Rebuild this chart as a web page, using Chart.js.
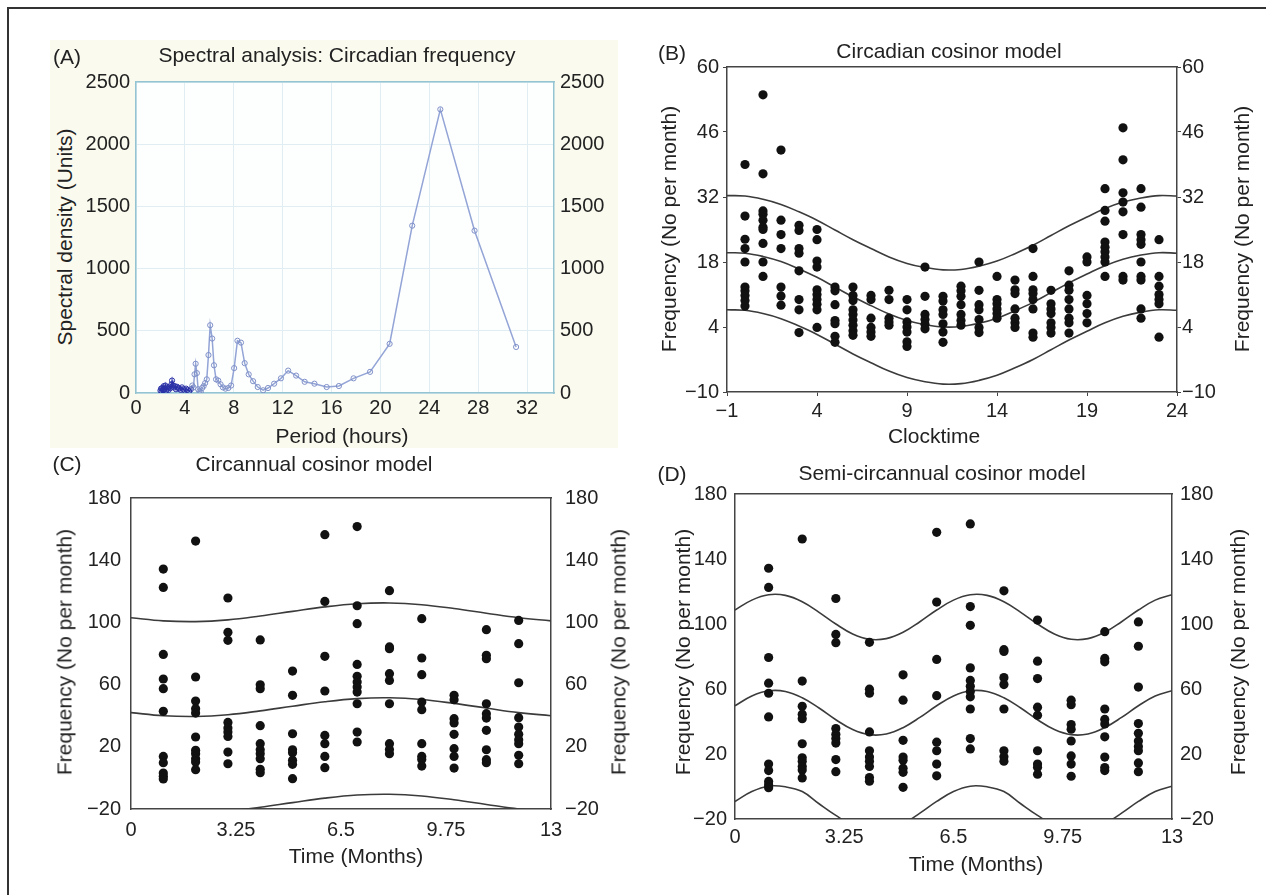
<!DOCTYPE html>
<html>
<head>
<meta charset="utf-8">
<script src="https://cdn.jsdelivr.net/npm/chart.js@4.4.0/dist/chart.umd.min.js"></script>
<style>
  body { margin: 0; background: #fff; width: 1266px; height: 895px; position: relative; overflow: hidden;
         font-family: "Liberation Sans", Arial, Helvetica, sans-serif; color: #222; }
  .frame { position: absolute; left: 7px; top: 7px; width: 1300px; height: 950px;
           border-left: 2px solid #333; border-top: 2px solid #333; }
  .cream { position: absolute; left: 50px; top: 40px; width: 568px; height: 408px; background: #fafaef; }
  .plotbg { position: absolute; left: 136px; top: 82px; width: 418px; height: 311px; background: #fdfefe; }
  canvas { position: absolute; }
  .t { position: absolute; font-size: 21px; line-height: 21px; white-space: nowrap; transform: translate(-50%, -50%); }
  .v { position: absolute; font-size: 21px; line-height: 21px; white-space: nowrap;
       transform: translate(-50%, -50%) rotate(-90deg); }
</style>
</head>
<body>
<div class="frame"></div>
<div class="cream"></div>
<div class="plotbg"></div>

<canvas id="chartA"></canvas>
<canvas id="chartB"></canvas>
<canvas id="chartC"></canvas>
<canvas id="chartD"></canvas>

<div class="t" style="left:67px;top:56px">(A)</div>
<div class="t" style="left:337px;top:54px">Spectral analysis: Circadian frequency</div>
<div class="t" style="left:342px;top:435px">Period (hours)</div>
<div class="v" style="left:64px;top:237px">Spectral density (Units)</div>

<div class="t" style="left:672px;top:52px">(B)</div>
<div class="t" style="left:949px;top:50px">Circadian cosinor model</div>
<div class="t" style="left:934px;top:435px">Clocktime</div>
<div class="v" style="left:668px;top:229px">Frequency (No per month)</div>
<div class="v" style="left:1241px;top:229px">Frequency (No per month)</div>

<div class="t" style="left:67px;top:463px">(C)</div>
<div class="t" style="left:314px;top:463px">Circannual cosinor model</div>
<div class="t" style="left:356px;top:855px">Time (Months)</div>
<div class="v" style="left:64px;top:652px">Frequency (No per month)</div>
<div class="v" style="left:618px;top:652px">Frequency (No per month)</div>

<div class="t" style="left:672px;top:473px">(D)</div>
<div class="t" style="left:942px;top:472px">Semi-circannual cosinor model</div>
<div class="t" style="left:976px;top:863px">Time (Months)</div>
<div class="v" style="left:682px;top:652px">Frequency (No per month)</div>
<div class="v" style="left:1237px;top:652px">Frequency (No per month)</div>

<script>
// ---- (A) spectral analysis ----
const aPeriod = [2.0, 2.05, 2.1, 2.15, 2.2, 2.27, 2.33, 2.4, 2.46, 2.52, 2.6, 2.67, 2.75, 2.83, 2.9, 2.95,
  3.02, 3.1, 3.18, 3.27, 3.36, 3.45, 3.55, 3.65, 3.76, 3.87, 3.98, 4.1, 4.22, 4.35, 4.48,
  4.61, 4.7, 4.79, 4.88, 4.98, 5.08, 5.19, 5.3, 5.41, 5.53, 5.66, 5.79, 5.93, 6.07, 6.23, 6.38,
  6.55, 6.73, 6.92, 7.11, 7.32, 7.55, 7.78, 8.03, 8.3, 8.59, 8.89, 9.22, 9.58, 9.96, 10.4, 10.8,
  11.3, 11.86, 12.45, 13.1, 13.8, 14.6, 15.6, 16.6, 17.8, 19.15, 20.75, 22.6, 24.9, 27.7, 31.1];
const aDensity = [20, 35, 15, 40, 25, 55, 30, 60, 20, 45, 35, 25, 50, 40, 70, 100,
  60, 45, 55, 30, 50, 40, 35, 25, 45, 30, 20, 35, 25, 15, 30,
  60, 45, 150, 235, 160, 30, 15, 8, 40, 55, 80, 110, 305, 545, 438, 223,
  110, 100, 70, 45, 35, 40, 60, 200, 420, 405, 240, 150, 95, 48, 22, 40,
  75, 118, 180, 140, 90, 75, 48, 56, 118, 170, 395, 1345, 2280, 1305, 370];
const aTicksX = [0, 4, 8, 12, 16, 20, 24, 28, 32];
const aTicksY = [0, 500, 1000, 1500, 2000, 2500];

// ---- (B) circadian cosinor ----
const bClock = [0, 1, 2, 3, 4, 5, 6, 7, 8, 9, 10, 11, 12, 13, 14, 15, 16, 17, 18, 19, 20, 21, 22, 23];
const bCounts = [
  [39.0, 27.9, 22.9, 20.9, 18.0, 12.6, 11.8, 10.8, 9.7, 8.5],
  [54.0, 37.0, 29.0, 28.3, 27.0, 25.5, 25.0, 22.0, 18.0, 14.9],
  [42.1, 27.0, 23.9, 20.9, 12.6, 10.7, 8.7],
  [25.9, 24.8, 20.9, 19.9, 16.1, 9.9, 7.7, 2.8],
  [25.0, 22.8, 18.2, 16.9, 12.0, 11.0, 9.9, 8.9, 7.7, 3.9],
  [12.6, 11.8, 8.8, 5.4, 4.7, 2.0, 0.7],
  [12.6, 10.8, 9.7, 7.7, 6.7, 5.5, 4.4, 3.2, 2.2],
  [10.8, 9.9, 5.9, 3.9, 2.9, 2.0],
  [11.9, 9.9, 5.9, 5.1, 4.4],
  [9.9, 7.7, 5.1, 4.0, 2.9, 0.8, -0.2],
  [16.9, 10.6, 6.7, 5.6, 4.6, 3.6],
  [10.6, 9.6, 7.7, 6.7, 4.7, 2.9, 0.7],
  [12.8, 11.8, 10.6, 8.8, 6.7, 5.4, 4.4],
  [18.0, 11.9, 8.8, 7.7, 5.6, 3.9, 2.8],
  [14.9, 9.9, 9.0, 7.9, 6.9, 5.9],
  [14.1, 12.0, 11.2, 7.9, 5.9, 4.9, 3.9],
  [20.9, 14.9, 12.0, 11.2, 9.9, 7.9, 2.7, 1.8],
  [11.9, 9.0, 7.9, 6.9, 4.9, 3.9, 2.7],
  [16.1, 13.0, 11.9, 9.9, 7.9, 5.9, 4.9, 2.7],
  [19.1, 18.0, 10.8, 9.0, 6.9, 4.9],
  [33.8, 29.1, 26.8, 22.3, 21.2, 20.2, 19.1, 18.0, 14.9],
  [46.9, 40.0, 32.9, 30.9, 28.8, 23.9, 14.9, 14.1],
  [33.8, 29.8, 23.9, 22.8, 21.8, 18.0, 14.9, 14.1, 7.9, 5.9],
  [22.8, 14.9, 12.8, 11.0, 9.9, 9.0, 1.8]
];
const bFitHours = [-1, 0, 1, 2, 3, 4, 5, 6, 7, 8, 9, 10, 11, 12, 13, 14, 15, 16, 17, 18, 19, 20, 21, 22, 23, 24];
const bFitUpper = [32.3, 32.2, 31.5, 30.4, 28.8, 27.0, 24.9, 22.8, 20.9, 19.1, 17.7, 16.8, 16.3, 16.4, 17.1, 18.2,
  19.8, 21.6, 23.7, 25.8, 27.7, 29.5, 30.9, 31.8, 32.3, 32.2];
const bFitMean = [20.0, 19.9, 19.2, 18.1, 16.5, 14.7, 12.6, 10.5, 8.6, 6.8, 5.4, 4.5, 4.0, 4.1, 4.8, 5.9,
  7.5, 9.3, 11.4, 13.5, 15.4, 17.2, 18.6, 19.5, 20.0, 19.9];
const bFitLower = [7.7, 7.6, 6.9, 5.8, 4.2, 2.4, 0.3, -1.8, -3.7, -5.5, -6.9, -7.8, -8.3, -8.2, -7.5, -6.4,
  -4.8, -3.0, -0.9, 1.2, 3.1, 4.9, 6.3, 7.2, 7.7, 7.6];
const bTicksX = [-1, 4, 9, 14, 19, 24];
const bTicksY = [-10, 4, 18, 32, 46, 60];

// ---- (C) and (D) monthly counts ----
const months = [1, 2, 3, 4, 5, 6, 7, 8, 9, 10, 11, 12];
const monthCounts = [
  [134.3, 122.5, 79.4, 63.6, 57.4, 42.8, 13.8, 9.8, 3.1, 1.0, -0.7],
  [152.3, 64.9, 49.4, 44.5, 41.7, 26.3, 17.7, 15.6, 12.3, 10.2, 5.3],
  [115.7, 93.6, 88.5, 35.7, 32.1, 29.5, 26.7, 16.6, 9.1],
  [88.7, 59.9, 57.4, 33.6, 22.0, 18.1, 15.6, 12.3, 5.5, 3.3],
  [68.7, 53.1, 28.4, 18.1, 16.2, 11.3, 8.7, -0.5],
  [156.4, 113.5, 78.2, 55.9, 27.3, 22.0, 13.8, 6.6],
  [161.6, 110.7, 99.2, 73.0, 65.3, 61.7, 58.4, 55.2, 47.7, 29.5, 23.1],
  [120.4, 84.2, 83.1, 67.0, 62.7, 47.7, 22.0, 18.3, 15.6],
  [102.4, 77.1, 66.4, 48.8, 43.9, 22.0, 13.8, 11.9, 7.6],
  [53.1, 50.3, 38.1, 35.3, 28.0, 18.8, 13.8, 6.3],
  [95.3, 78.8, 76.7, 47.7, 41.3, 38.5, 30.6, 18.1, 11.7, 9.8],
  [101.3, 86.3, 61.2, 38.7, 32.7, 28.0, 24.6, 22.0, 14.5, 9.1]
];
const cFitMonths = [0, 1, 2, 3, 4, 5, 6, 7, 8, 9, 10, 11, 12, 13];
const cFitUpper = [103.0, 101.0, 100.5, 101.6, 104.1, 107.1, 110.0, 112.0, 112.5, 111.4, 108.9, 105.9, 103.0, 101.0];
const cFitMean = [42.0, 40.0, 39.5, 40.6, 43.1, 46.1, 49.0, 51.0, 51.5, 50.4, 47.9, 44.9, 42.0, 40.0];
const cFitLower = [-20.5, -22.0, -22.5, -21.4, -18.9, -15.9, -13.0, -11.0, -10.5, -11.6, -14.1, -17.1, -20.0, -22.0];
const dFitMonths = [0, 0.5, 1, 1.5, 2, 2.5, 3, 3.5, 4, 4.5, 5, 5.5, 6, 6.5, 7, 7.5, 8, 8.5, 9, 9.5, 10, 10.5,
  11, 11.5, 12, 12.5, 13];
const dFitUpper = [108.6, 114.7, 118.0, 117.6, 113.7, 107.2, 100.0, 93.9, 90.6, 91.0, 94.9, 101.4,
  108.6, 114.7, 118.0, 117.6, 113.7, 107.2, 100.0, 93.9, 90.6, 91.0, 94.9, 101.4, 108.6, 114.7, 118.0];
const dFitMean = [49.7, 55.7, 58.9, 58.5, 54.6, 48.3, 41.1, 35.1, 31.9, 32.3, 36.2, 42.5,
  49.7, 55.7, 58.9, 58.5, 54.6, 48.3, 41.1, 35.1, 31.9, 32.3, 36.2, 42.5, 49.7, 55.7, 58.9];
const dFitLower = [-9.2, -3.1, 0.2, -0.2, -3.1, -10.6, -17.8, -23.9, -27.2, -26.8, -22.9, -16.4,
  -9.2, -3.1, 0.2, -0.2, -3.1, -10.6, -17.8, -23.9, -27.2, -26.8, -22.9, -16.4, -9.2, -3.1, 0.2];
const monthTicks = [0, 3.25, 6.5, 9.75, 13];
const countTicks = [-20, 20, 60, 100, 140, 180];

const FONT = '"Liberation Sans", Arial, Helvetica, sans-serif';
const M = 60; // margin around each plot area inside its canvas

function fmt(v) {
  return v < 0 ? "\u2212" + Math.abs(v) : String(v);
}

function axis(pos, min, max, ticks, o) {
  const horiz = pos === "top" || pos === "bottom";
  return {
    type: "linear",
    position: pos,
    min: min,
    max: max,
    afterBuildTicks: (s) => { s.ticks = ticks.map((v) => ({ value: v })); },
    afterFit: (s) => { if (horiz) s.height = M; else s.width = M; },
    ticks: {
      display: o.show !== false,
      callback: fmt,
      padding: o.pad || 0,
      color: "#222",
      font: { family: FONT, size: 20 },
      maxRotation: 0,
      autoSkip: false,
    },
    grid: {
      display: true,
      drawOnChartArea: !!o.grid,
      color: o.grid || o.color,
      drawTicks: (o.tl || 0) > 0,
      tickLength: o.tl || 0,
      tickColor: o.color,
      tickWidth: 1,
    },
    border: { display: true, color: o.color, width: o.bw || 1.5 },
  };
}

function place(id, box) {
  const c = document.getElementById(id);
  const w = box.r - box.l + 2 * M;
  const h = box.b - box.t + 2 * M;
  c.width = w;
  c.height = h;
  c.style.left = box.l - M + "px";
  c.style.top = box.t - M + "px";
  c.style.width = w + "px";
  c.style.height = h + "px";
  return c;
}

function makeChart(id, box, scales, datasets) {
  return new Chart(place(id, box).getContext("2d"), {
    type: "scatter",
    data: { datasets: datasets },
    options: {
      responsive: false,
      animation: false,
      devicePixelRatio: 1,
      layout: { padding: 0 },
      plugins: { legend: { display: false }, tooltip: { enabled: false } },
      scales: scales,
    },
  });
}

function dots(xs, cols) {
  const pts = [];
  cols.forEach((col, i) => col.forEach((v) => pts.push({ x: xs[i], y: v })));
  return {
    data: pts,
    pointRadius: 4.6,
    pointBackgroundColor: "#111",
    pointBorderWidth: 0,
    pointHoverRadius: 4.6,
  };
}

function curve(xs, ys) {
  return {
    data: xs.map((x, i) => ({ x: x, y: ys[i] })),
    showLine: true,
    pointRadius: 0,
    borderColor: "#3b3b3b",
    borderWidth: 1.6,
    tension: 0.4,
    fill: false,
  };
}

// (A)
const teal = "#94c4d2";
makeChart("chartA", { l: 136, r: 554, t: 82, b: 393 }, {
  x: axis("bottom", 0, 34.2, aTicksX, { color: teal, grid: "#e0eef4", pad: 3 }),
  xt: axis("top", 0, 34.2, aTicksX, { color: teal, show: false }),
  y: axis("left", 0, 2500, aTicksY, { color: teal, grid: "#e0eef4", pad: 6 }),
  yr: axis("right", 0, 2500, aTicksY, { color: teal, pad: 6 }),
}, [{
  data: aPeriod.map((p, i) => ({ x: p, y: aDensity[i] })),
  showLine: true,
  borderColor: "#93a4d6",
  borderWidth: 1.5,
  tension: 0,
  pointRadius: 2.6,
  pointBorderWidth: 1,
  pointBackgroundColor: "rgba(255,255,255,0)",
  pointBorderColor: (ctx) => (ctx.raw && ctx.raw.x < 4.6 ? "#2a31a6" : "#7f90c8"),
  segment: { borderColor: (ctx) => (ctx.p0.parsed.x < 4.55 ? "#3b44b4" : undefined) },
}]);

// (B)
const dark = "#444";
makeChart("chartB", { l: 727, r: 1177, t: 67, b: 392 }, {
  x: axis("bottom", -1, 24, bTicksX, { color: dark, tl: 4, pad: 3 }),
  xt: axis("top", -1, 24, bTicksX, { color: dark, show: false }),
  y: axis("left", -10, 60, bTicksY, { color: dark, tl: 4, pad: 4 }),
  yr: axis("right", -10, 60, bTicksY, { color: dark, tl: 4, pad: 1 }),
}, [
  dots(bClock, bCounts),
  curve(bFitHours, bFitUpper),
  curve(bFitHours, bFitMean),
  curve(bFitHours, bFitLower),
]);

// (C)
makeChart("chartC", { l: 131, r: 551, t: 498, b: 809 }, {
  x: axis("bottom", 0, 13, monthTicks, { color: dark, pad: 9 }),
  xt: axis("top", 0, 13, monthTicks, { color: dark, show: false }),
  y: axis("left", -20, 180, countTicks, { color: dark, pad: 10 }),
  yr: axis("right", -20, 180, countTicks, { color: dark, pad: 14 }),
}, [
  dots(months, monthCounts),
  curve(cFitMonths, cFitUpper),
  curve(cFitMonths, cFitMean),
  curve(cFitMonths, cFitLower),
]);

// (D)
makeChart("chartD", { l: 735, r: 1172, t: 494, b: 819 }, {
  x: axis("bottom", 0, 13, monthTicks, { color: dark, pad: 6 }),
  xt: axis("top", 0, 13, monthTicks, { color: dark, show: false }),
  y: axis("left", -20, 180, countTicks, { color: dark, pad: 8 }),
  yr: axis("right", -20, 180, countTicks, { color: dark, pad: 8 }),
}, [
  dots(months, monthCounts),
  curve(dFitMonths, dFitUpper),
  curve(dFitMonths, dFitMean),
  curve(dFitMonths, dFitLower),
]);
</script>
</body>
</html>
